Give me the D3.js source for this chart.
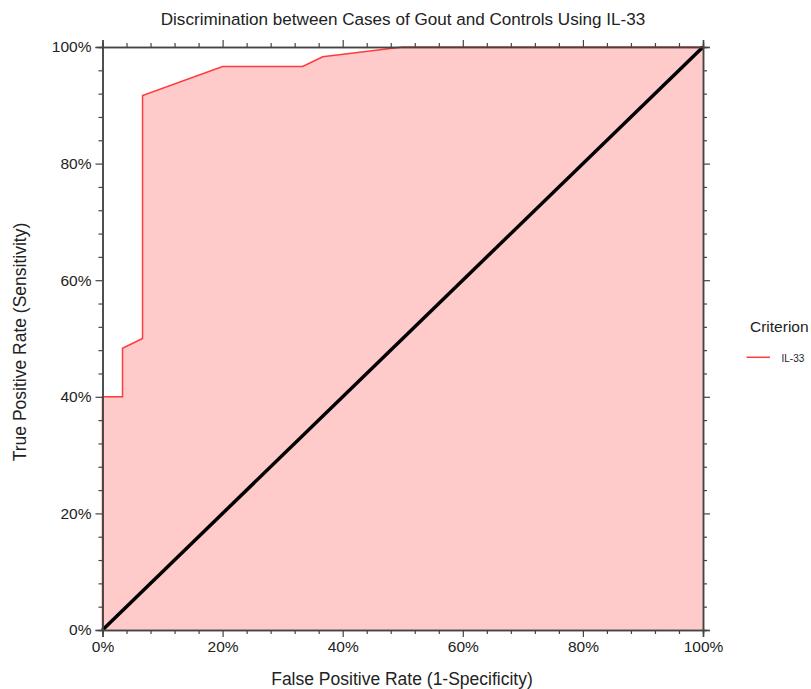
<!DOCTYPE html>
<html>
<head>
<meta charset="utf-8">
<script src="https://cdn.jsdelivr.net/npm/d3@7"></script>
<style>
  html, body { margin: 0; padding: 0; background: #fff; }
  svg text { font-family: "Liberation Sans", Arial, sans-serif; fill: #222; }
</style>
</head>
<body>
<svg id="chart" width="811" height="689"></svg>
<script>
// ROC data: False Positive Rate and True Positive Rate
const fpr = [0, 0, 1/30, 1/30, 2/30, 2/30, 6/30, 10/30, 11/30, 15/30, 1];
const tpr = [0, 24/60, 24/60, 29/60, 30/60, 55/60, 58/60, 58/60, 59/60, 1, 1];
const diagonal = [0, 1];
const majorTicks = [0, 0.2, 0.4, 0.6, 0.8, 1.0];
const minorTicks = d3.range(0, 26).map(i => i * 0.04);
const seriesName = "IL-33";
const legendTitle = "Criterion";
const chartTitle = "Discrimination between Cases of Gout and Controls Using IL-33";
const xLabel = "False Positive Rate (1-Specificity)";
const yLabel = "True Positive Rate (Sensitivity)";

const svg = d3.select("#chart");
const L = 102.5, R = 703, T = 47, B = 630;
const x = d3.scaleLinear().domain([0, 1]).range([L, R]);
const y = d3.scaleLinear().domain([0, 1]).range([B, T]);
const pts = fpr.map((f, i) => [f, tpr[i]]);

// fill area
const area = d3.area().x(d => x(d[0])).y0(y(0)).y1(d => y(d[1]));
svg.append("path").datum(pts).attr("d", area).attr("fill", "#ffcaca");

// ROC line
const line = d3.line().x(d => x(d[0])).y(d => y(d[1]));
svg.append("path").datum(pts).attr("d", line)
  .attr("fill", "none").attr("stroke", "#ff3b3b").attr("stroke-width", 1.5);

// diagonal
svg.append("path").datum(diagonal.map(v => [v, v])).attr("d", line)
  .attr("fill", "none").attr("stroke", "#000").attr("stroke-width", 3.5);

const fmt = d3.format(".0%");
const axisColor = "#444";
function styleAxis(g) {
  g.select(".domain").attr("stroke", axisColor).attr("stroke-width", 1.5);
  g.selectAll(".tick line").attr("stroke", axisColor).attr("stroke-width", 1.2);
}
const minorOnly = minorTicks.filter(t => !majorTicks.some(m => Math.abs(m - t) < 1e-9));
const axes = [
  [d3.axisBottom(x), `translate(0,${B})`, true],
  [d3.axisTop(x), `translate(0,${T})`, false],
  [d3.axisLeft(y), `translate(${L},0)`, true],
  [d3.axisRight(y), `translate(${R},0)`, false]
];
axes.forEach(([ax, tr, labels]) => {
  const gm = svg.append("g").attr("transform", tr)
    .call(ax.tickValues(minorOnly).tickSize(4).tickFormat(""));
  styleAxis(gm);
  const g = svg.append("g").attr("transform", tr)
    .call(ax.tickValues(majorTicks).tickSize(7).tickPadding(4).tickFormat(labels ? fmt : ""));
  styleAxis(g);
  g.selectAll("text").attr("font-size", 15.5).attr("fill", "#222");
});

// titles
svg.append("text").attr("x", 403).attr("y", 25).attr("text-anchor", "middle")
  .attr("font-size", 17.1).text(chartTitle);
svg.append("text").attr("x", 402).attr("y", 685).attr("text-anchor", "middle")
  .attr("font-size", 17.5).text(xLabel);
svg.append("text").attr("transform", `translate(26,342) rotate(-90)`)
  .attr("text-anchor", "middle").attr("font-size", 17.5).text(yLabel);

// legend
svg.append("text").attr("x", 750).attr("y", 332).attr("font-size", 15.5).text(legendTitle);
svg.append("line").attr("x1", 746.5).attr("x2", 770).attr("y1", 357.3).attr("y2", 357.3)
  .attr("stroke", "#ff3b3b").attr("stroke-width", 1.5);
svg.append("text").attr("x", 781.5).attr("y", 361.5).attr("font-size", 10).text(seriesName);
</script>
</body>
</html>
